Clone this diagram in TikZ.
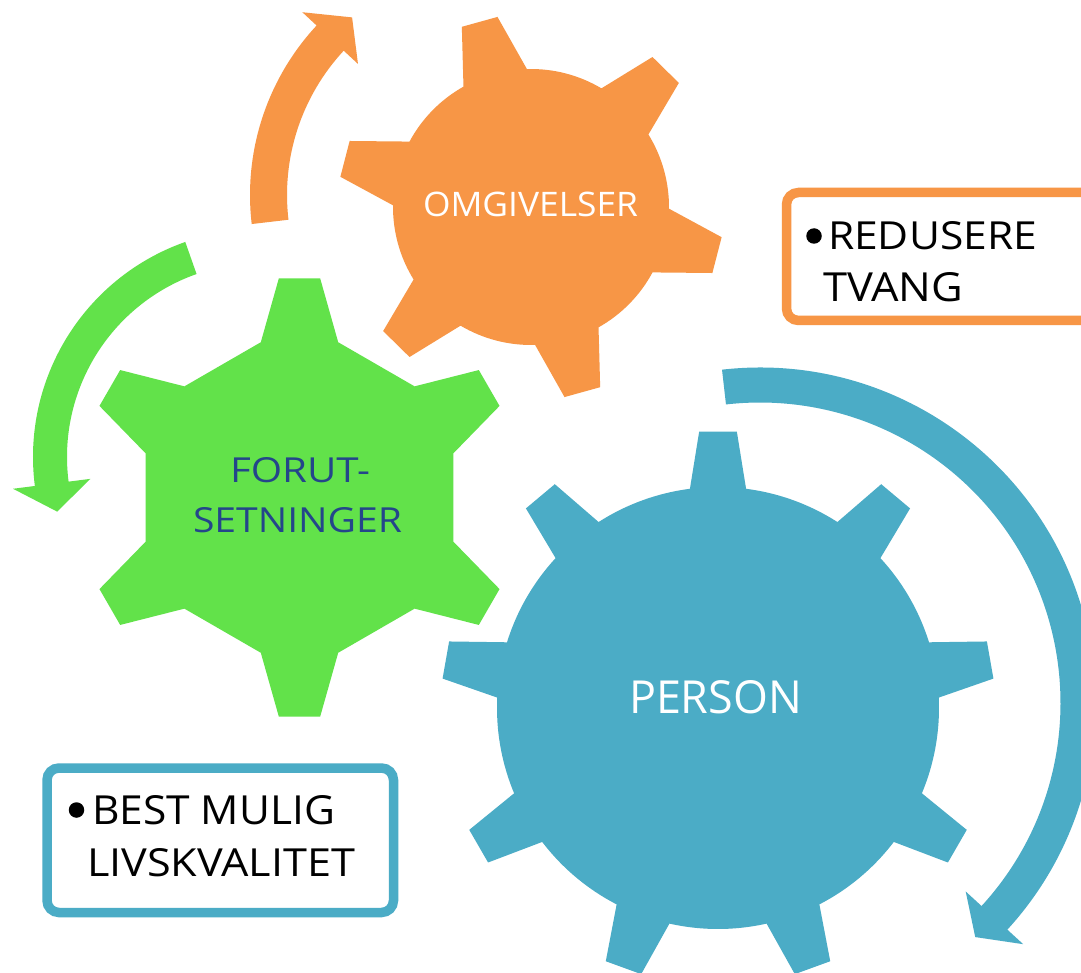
\documentclass[tikz,border=0pt]{standalone}
\usepackage{fontspec}
\setmainfont{Open Sans}
\usepackage{graphicx}
\definecolor{gorange}{HTML}{F79646}
\definecolor{gblue}{HTML}{4BACC6}
\definecolor{ggreen}{HTML}{62E24A}
\definecolor{ftext}{HTML}{24468A}
\tikzset{
  boxframe/.style={draw=#1, line width=9.5pt, fill=white, rounded corners=12pt},
  lbl/.style={inner sep=0pt, outer sep=0pt, anchor=south west},
  dot/.style={circle, fill=black, draw=none, inner sep=0pt, minimum size=15.5pt},
}
% gear with round body: n, offset, r tip, r body, tip half angle, base half angle
\newcommand{\gearpath}[6]{%
  ({#2-#6}:#4)
  \foreach \k [evaluate=\k as \ga using {#2+(\k-1)*360/#1}, evaluate=\k as \gb using {#2+\k*360/#1}] in {1,...,#1}{
    -- ({\ga-#5}:#3) -- ({\ga+#5}:#3) -- ({\ga+#6}:#4)
    arc[start angle={\ga+#6}, end angle={\gb-#6}, radius=#4]
  } -- cycle}
% gear with polygonal body
\newcommand{\gearpolypath}[6]{%
  ({#2-#6}:#4)
  \foreach \k [evaluate=\k as \ga using {#2+(\k-1)*360/#1}] in {1,...,#1}{
    -- ({\ga-#6}:#4) -- ({\ga-#5}:#3) -- ({\ga+#5}:#3) -- ({\ga+#6}:#4)
  } -- cycle}
% R, half width, start angle, head base angle, tip angle, half head width
\newcommand{\arcarrowpath}[6]{%
  ({#3}:{#1+#2}) arc[start angle={#3}, end angle={#4}, radius={#1+#2}]
  -- ({#4}:{#1+#6}) -- ({#5}:{#1}) -- ({#4}:{#1-#6}) -- ({#4}:{#1-#2})
  arc[start angle={#4}, end angle={#3}, radius={#1-#2}] -- cycle}
\begin{document}
\begin{tikzpicture}[x=1pt,y=-1pt]
\useasboundingbox (0,0) rectangle (1081,973);
\clip (0,0) rectangle (1081,973);
\fill[white] (0,0) rectangle (1081,973);
% gears
\fill[gorange, shift={(531,207)}] \gearpath{6}{14.5}{193}{138}{5.5}{13.8};
\fill[ggreen, shift={(299.5,497.5)}] \gearpolypath{6}{30}{220}{160}{5.4}{14};
\fill[gblue, shift={(718,708)}] \gearpath{9}{30}{277}{221}{3.9}{7.3};
% circular arrows
\fill[gorange, shift={(499,195)}] \arcarrowpath{230.5}{18.5}{173.3}{222.9}{230.4}{38};
\fill[ggreen, shift={(261,457)}] \arcarrowpath{211}{17}{250.6}{172.7}{165}{39};
\fill[gblue, shift={(760,703)}] \arcarrowpath{318}{17.5}{263.5}{402.5}{407.4}{39};
% boxes
\draw[boxframe=gorange] (786.5,192.5) rectangle (1110,320.5);
\draw[boxframe=gblue] (47,768) rectangle (393.5,912.5);
% gear labels
\node[lbl, text=white] (omg) at (423,217) {\resizebox{215pt}{24.5pt}{OMGIVELSER}};
\node[lbl, text=ftext] (for1) at (230,483.3) {\resizebox{140pt}{25pt}{FORUT-}};
\node[lbl, text=ftext] (for2) at (193,533) {\resizebox{209pt}{25pt}{SETNINGER}};
\node[lbl, text=white] (per) at (629,714) {\resizebox{173pt}{33pt}{PERSON}};
% box texts
\node[dot] (d1) at (814,236) {};
\node[lbl] (red1) at (828,250) {\resizebox{209pt}{28pt}{REDUSERE}};
\node[lbl] (red2) at (823,302) {\resizebox{140pt}{29pt}{TVANG}};
\node[dot] (d2) at (76.5,810) {};
\node[lbl] (best1) at (92,825) {\resizebox{243pt}{29pt}{BEST MULIG}};
\node[lbl] (best2) at (87,877) {\resizebox{268pt}{28pt}{LIVSKVALITET}};
\end{tikzpicture}
\end{document}
